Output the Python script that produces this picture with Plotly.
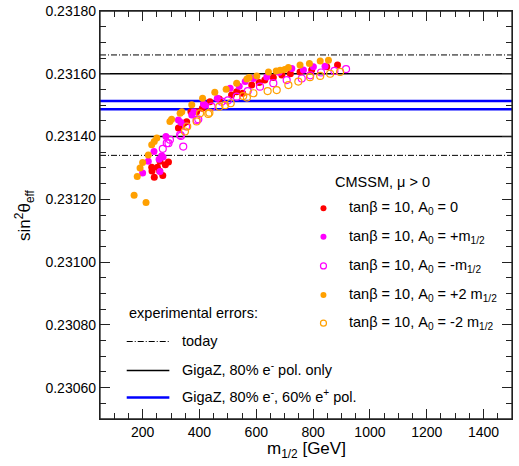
import plotly.graph_objects as go

# ---------------- data ----------------
m_a0_zero = [232, 241, 252, 261, 271, 291, 233, 260, 280, 326, 338, 345, 355, 370, 390, 410,
             437, 470, 513, 531, 552, 584, 610, 630, 660, 690, 720, 754, 795, 848, 886]
s_a0_zero = [0.231302, 0.231270, 0.231302, 0.231321, 0.231276, 0.231319, 0.231290, 0.231290,
             0.231310, 0.231427, 0.231437, 0.231442, 0.231447, 0.231479, 0.231479, 0.231490,
             0.231511, 0.231520, 0.231532, 0.231543, 0.231538, 0.231564, 0.231572, 0.231580,
             0.231588, 0.231596, 0.231600, 0.231606, 0.231612, 0.231622, 0.231628]

m_a0_p1 = [200, 220, 240, 258, 261, 267, 272, 282, 326, 335, 373, 380, 414, 420, 463, 508,
           540, 561, 590, 637, 680, 725, 766, 801, 842]
s_a0_p1 = [0.231284, 0.231321, 0.231352, 0.231328, 0.231289, 0.231339, 0.231335, 0.231400,
           0.231453, 0.231445, 0.231469, 0.231478, 0.231504, 0.231500, 0.231522, 0.231554,
           0.231560, 0.231575, 0.231585, 0.231590, 0.231605, 0.231617, 0.231612, 0.231622,
           0.231624]

m_a0_m1 = [271, 285, 291, 296, 332, 335, 343, 353, 390, 396, 443, 478, 500, 531, 570, 613,
           660, 707, 760, 790, 828, 875, 916]
s_a0_m1 = [0.231361, 0.231379, 0.231379, 0.231390, 0.231405, 0.231402, 0.231368, 0.231432,
           0.231453, 0.231455, 0.231495, 0.231511, 0.231515, 0.231527, 0.231545, 0.231559,
           0.231570, 0.231580, 0.231585, 0.231595, 0.231604, 0.231609, 0.231615]

m_a0_p2 = [170, 181, 191, 200, 212, 220, 232, 241, 250, 296, 302, 332, 338, 373, 411, 454,
           494, 531, 567, 575, 602, 643, 670, 684, 700, 713, 754, 787, 825, 854]
s_a0_p2 = [0.231213, 0.231273, 0.231300, 0.231317, 0.231190, 0.231341, 0.231374, 0.231384,
           0.231395, 0.231448, 0.231455, 0.231474, 0.231479, 0.231501, 0.231522, 0.231541,
           0.231551, 0.231570, 0.231583, 0.231588, 0.231593, 0.231606, 0.231609, 0.231611,
           0.231614, 0.231620, 0.231628, 0.231633, 0.231641, 0.231643]

m_a0_m2 = [349, 357, 390, 402, 431, 435, 470, 490, 510, 554, 567, 590, 640, 672, 713, 748,
           789, 825, 860, 895]
s_a0_m2 = [0.231416, 0.231432, 0.231448, 0.231474, 0.231472, 0.231476, 0.231495, 0.231500,
           0.231506, 0.231529, 0.231524, 0.231538, 0.231545, 0.231548, 0.231564, 0.231575,
           0.231589, 0.231593, 0.231600, 0.231606]

s_center = 0.23150
err_today = 0.00016
err_gigaz = 0.00010
err_gigaz_pol = 0.000013

y_tick_vals = [0.2306, 0.2308, 0.2310, 0.2312, 0.2314, 0.2316, 0.2318]
y_tick_text = ["0.23060", "0.23080", "0.23100", "0.23120", "0.23140", "0.23160", "0.23180"]

series_labels = [
    "tanβ = 10, A<sub>0</sub> = 0",
    "tanβ = 10, A<sub>0</sub> = +m<sub>1/2</sub>",
    "tanβ = 10, A<sub>0</sub> = -m<sub>1/2</sub>",
    "tanβ = 10, A<sub>0</sub> = +2 m<sub>1/2</sub>",
    "tanβ = 10, A<sub>0</sub> = -2 m<sub>1/2</sub>",
]
error_labels = [
    "today",
    "GigaZ, 80% e<sup>-</sup> pol. only",
    "GigaZ, 80% e<sup>-</sup>, 60% e<sup>+</sup> pol.",
]

# ---------------- styling ----------------
RED = "#ff0000"
MAG = "#ff00ff"
ORA = "#ffa000"
FONT = "Liberation Sans, Arial, sans-serif"

W, H = 519, 466
L, R, T, B = 100, 511.7, 10.7, 419.3


def px(x):
    return (x - L) / (R - L)


def py(y):
    return (B - y) / (B - T)


fig = go.Figure()

series = [
    (m_a0_zero, s_a0_zero, RED, "circle"),
    (m_a0_p1, s_a0_p1, MAG, "circle"),
    (m_a0_m1, s_a0_m1, MAG, "circle-open"),
    (m_a0_p2, s_a0_p2, ORA, "circle"),
    (m_a0_m2, s_a0_m2, ORA, "circle-open"),
]
for (mx, sy, col, sym), lab in zip(series, series_labels):
    fig.add_trace(go.Scatter(
        x=mx, y=sy, mode="markers", name=lab, showlegend=False,
        marker=dict(color=col, symbol=sym, size=7,
                    line=dict(color=col, width=1.2 if "open" in sym else 0)),
    ))

shapes = []
for sign in (-1, 1):
    shapes.append(dict(type="line", xref="x domain", yref="y", x0=0, x1=1,
                       y0=s_center + sign * err_today, y1=s_center + sign * err_today,
                       line=dict(color="black", width=1, dash="6px,2px,1px,2px"), layer="below"))
    shapes.append(dict(type="line", xref="x domain", yref="y", x0=0, x1=1,
                       y0=s_center + sign * err_gigaz, y1=s_center + sign * err_gigaz,
                       line=dict(color="black", width=1.6), layer="below"))
    shapes.append(dict(type="line", xref="x domain", yref="y", x0=0, x1=1,
                       y0=s_center + sign * err_gigaz_pol, y1=s_center + sign * err_gigaz_pol,
                       line=dict(color="#0000ff", width=2.6), layer="below"))

# plot frame
shapes.append(dict(type="rect", xref="x domain", yref="y domain", x0=0, x1=1, y0=0, y1=1,
                   line=dict(color="#222", width=1.3), fillcolor="rgba(0,0,0,0)"))

annotations = []
tfont = dict(family=FONT, size=14.5, color="black")

# series legend
annotations.append(dict(xref="paper", yref="paper", x=px(333), y=py(182), text="CMSSM, μ > 0",
                        showarrow=False, xanchor="left", yanchor="middle", font=tfont))
leg_y = [208.3, 236.7, 266, 295, 323.3]
for (mx, sy, col, sym), lab, yy in zip(series, series_labels, leg_y):
    filled = "open" not in sym
    shapes.append(dict(type="circle", xref="paper", yref="paper",
                       xsizemode="pixel", ysizemode="pixel",
                       xanchor=px(323.3), yanchor=py(yy),
                       x0=-3, x1=3, y0=-3, y1=3,
                       fillcolor=col if filled else "rgba(0,0,0,0)",
                       line=dict(color=col, width=0 if filled else 1.2)))
    annotations.append(dict(xref="paper", yref="paper", x=px(346.5), y=py(yy), text=lab,
                            showarrow=False, xanchor="left", yanchor="middle", font=tfont))

# error legend
annotations.append(dict(xref="paper", yref="paper", x=px(126.5), y=py(313), text="experimental errors:",
                        showarrow=False, xanchor="left", yanchor="middle", font=tfont))
err_styles = [
    dict(color="black", width=1, dash="6px,2px,1px,2px"),
    dict(color="black", width=1.6),
    dict(color="#0000ff", width=2.6),
]
err_y = [341.7, 370.7, 397.7]
for lab, st, yy in zip(error_labels, err_styles, err_y):
    shapes.append(dict(type="line", xref="paper", yref="paper", x0=px(126.7), x1=px(169.3),
                       y0=py(yy), y1=py(yy), line=st))
    annotations.append(dict(xref="paper", yref="paper", x=px(179.5), y=py(yy - 1), text=lab,
                            showarrow=False, xanchor="left", yanchor="middle", font=tfont))

# axis titles
annotations.append(dict(xref="paper", yref="paper", x=px(306), y=py(450),
                        text="m<sub>1/2</sub> [GeV]", showarrow=False,
                        xanchor="center", yanchor="middle",
                        font=dict(family=FONT, size=17, color="black")))
annotations.append(dict(xref="paper", yref="paper", x=px(24), y=py(215),
                        text="sin<sup>2</sup>θ<sub>eff</sub>", showarrow=False, textangle=-90,
                        xanchor="center", yanchor="middle",
                        font=dict(family=FONT, size=17, color="black")))

axis_common = dict(
    showgrid=False, zeroline=False, showline=True, linecolor="#222", linewidth=1.3,
    mirror="ticks", ticks="inside", ticklen=10, tickwidth=1.2, tickcolor="#222",
    tickfont=dict(family=FONT, size=14, color="black"), automargin=False,
    ticklabeloverflow="allow",
)

fig.update_layout(
    template="none",
    width=W, height=H,
    margin=dict(l=L, r=W - R, t=T, b=H - B, pad=0, autoexpand=False),
    paper_bgcolor="white", plot_bgcolor="white",
    shapes=shapes, annotations=annotations,
    xaxis=dict(range=[50, 1500], dtick=200, tick0=0,
               minor=dict(dtick=50, tick0=0, ticks="inside", ticklen=6, tickwidth=1.2,
                          tickcolor="#222", showgrid=False),
               **axis_common),
    yaxis=dict(range=[0.2305, 0.2318000001], tickmode="array",
               tickvals=y_tick_vals, ticktext=y_tick_text,
               minor=dict(dtick=0.00005, tick0=0.2306, ticks="inside", ticklen=6, tickwidth=1.2,
                          tickcolor="#222", showgrid=False),
               **axis_common),
    showlegend=False,
)

fig.write_html("out.html", config={"displayModeBar": False},
               post_script="document.body.style.margin='0px';document.body.style.overflow='hidden';")
